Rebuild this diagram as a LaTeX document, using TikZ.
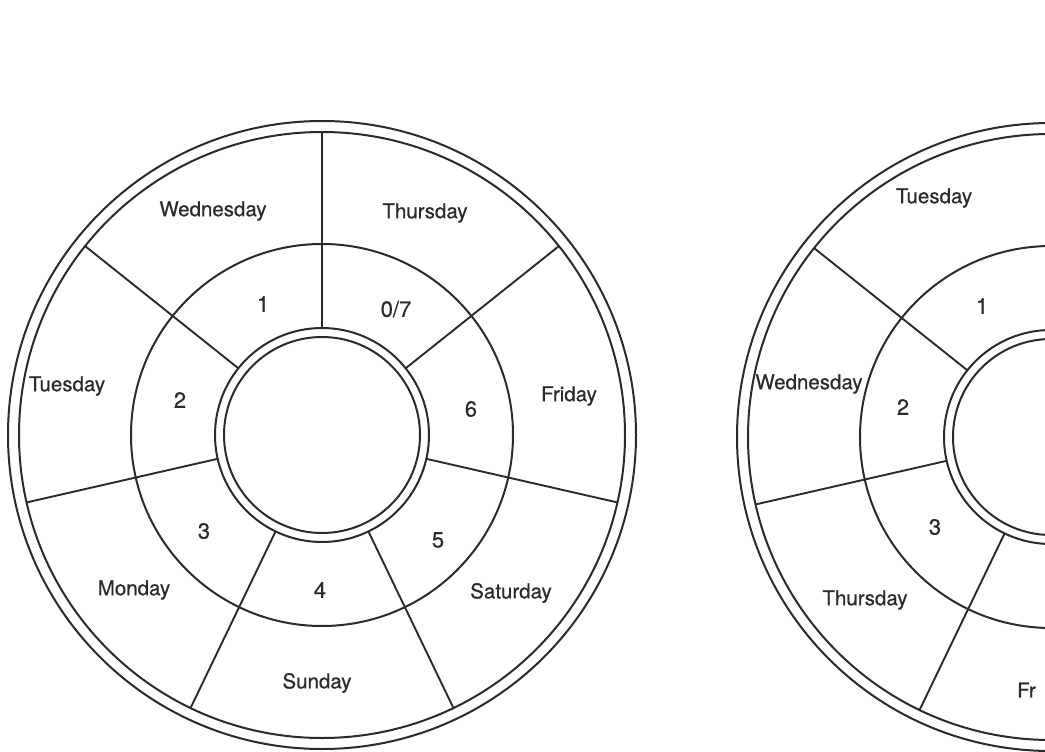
\documentclass[tikz,border=0pt]{standalone}
\usepackage{fontspec}
\setmainfont{TeX Gyre Heros}
\newfontfamily\labfont{TeX Gyre Heros}[FakeBold=0.5]
\usetikzlibrary{calc}
\definecolor{ink}{HTML}{2B2B2B}
\begin{document}
\begin{tikzpicture}[x=1pt,y=-1pt,
  ring/.style={draw=ink, line width=2pt},
  spoke/.style={draw=ink, line width=1.9pt},
  lbl/.style={font=\labfont\fontsize{20.5}{24}\selectfont, text=ink, inner sep=0pt},
  num/.style={font=\labfont\fontsize{22}{24}\selectfont, text=ink, inner sep=0pt}]
\useasboundingbox (0,0) rectangle (1045,752);
\clip (0,0) rectangle (1045,752);
\fill[white] (0,0) rectangle (1045,752);
\coordinate (L) at (322,435);
\coordinate (R) at (1051,437);
\foreach \c in {L,R}{
  \draw[ring] (\c) circle[radius=314pt];
  \draw[ring] (\c) circle[radius=303pt];
  \draw[ring] (\c) circle[radius=191pt];
  \draw[ring] (\c) circle[radius=107pt];
  \draw[ring] (\c) circle[radius=98pt];
  \foreach \a in {90,141.43,192.86,244.29,295.71,347.14,38.57}{
    \draw[spoke] ($(\c)+(\a:107pt)$) -- ($(\c)+(\a:303pt)$);
  }
}
% left diagram
\node[lbl] (lwed) at (213,211) {Wednesday};
\node[lbl] (lthu) at (425,213) {Thursday};
\node[lbl] (ltue) at (67,386) {Tuesday};
\node[lbl] (lfri) at (569,396) {Friday};
\node[lbl] (lmon) at (134,590) {Monday};
\node[lbl] (lsat) at (511,593) {Saturday};
\node[lbl] (lsun) at (317,683) {Sunday};
\node[num] (l1) at (263,304) {1};
\node[num] (l07) at (396,309) {0/7};
\node[num] (l2) at (180,400) {2};
\node[num] (l6) at (471,409) {6};
\node[num] (l3) at (204,531) {3};
\node[num] (l5) at (438,540) {5};
\node[num] (l4) at (320,590) {4};
% right diagram
\node[lbl] (rtue) at (934,198) {Tuesday};
\node[lbl] (rwed) at (809,384) {Wednesday};
\node[lbl] (rthu) at (865,600) {Thursday};
\node[lbl,anchor=west] (rfri) at (1017,690) {Fr};
\node[num] (r1) at (982,306) {1};
\node[num] (r2) at (903,407) {2};
\node[num] (r3) at (935,527) {3};
\end{tikzpicture}
\end{document}
